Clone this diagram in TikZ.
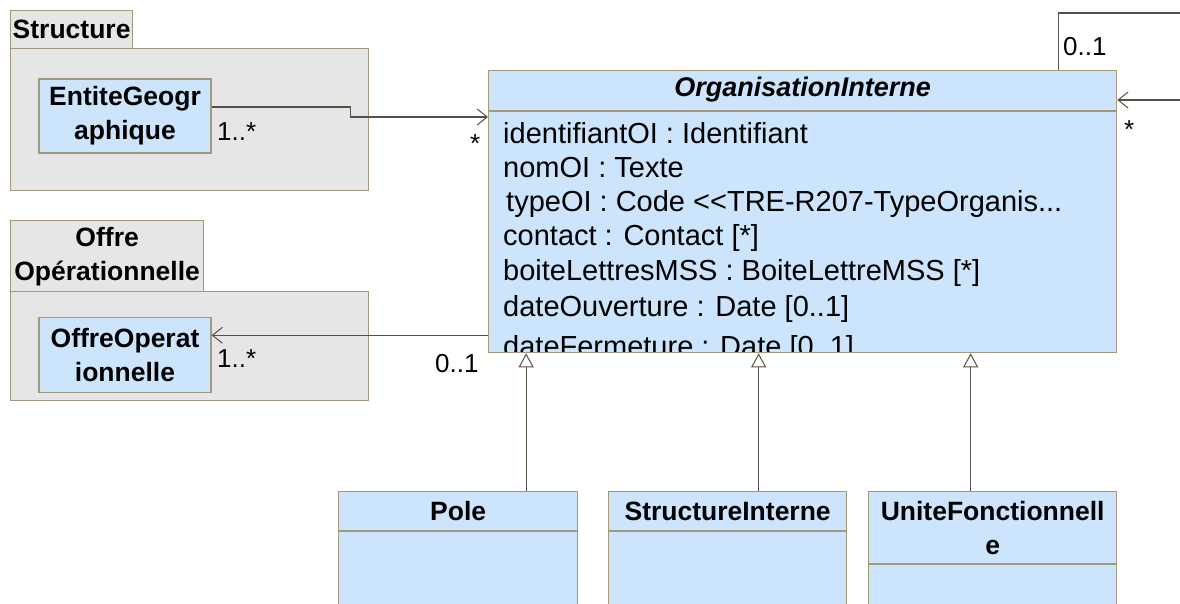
\documentclass[tikz,border=0pt]{standalone}
\usepackage{fontspec}
\setmainfont{Liberation Sans}
\usetikzlibrary{positioning,arrows.meta}
\definecolor{classfill}{RGB}{204,229,252}
\definecolor{pkgfill}{RGB}{230,230,230}
\definecolor{edgecol}{RGB}{163,152,122}
\definecolor{wirecol}{RGB}{88,80,68}

\tikzset{
  pkg/.style={draw=edgecol,fill=pkgfill,line width=1.3pt,inner sep=0pt},
  classbox/.style={draw=edgecol,fill=classfill,line width=1.3pt,inner sep=0pt},
  sepline/.style={draw=edgecol,line width=1.3pt},
  cname/.style={font=\fontsize{26.5}{34}\selectfont\bfseries,align=center,inner sep=0pt},
  attr/.style={font=\fontsize{29}{34}\selectfont,anchor=base west,inner sep=0pt},
  mult/.style={font=\fontsize{26}{30}\selectfont,anchor=base west,inner sep=0pt},
  assoc/.style={draw=wirecol,line width=1.3pt,-{Straight Barb[length=10pt,width=16pt,line width=1pt]}},
  gen/.style={draw=wirecol,line width=1.3pt,-{Triangle[length=14pt,width=15pt,fill=white,line width=1pt]}}
}

\begin{document}
\begin{tikzpicture}[x=1pt,y=-1pt]
\clip (0,0) rectangle (1180,603);
\fill[white] (0,0) rectangle (1180,603);

% packages
\node[pkg,anchor=north west,minimum width=358,minimum height=142] (strucpkg) at (10,48) {};
\node[pkg,cname,anchor=north west,minimum width=122,minimum height=38] (structab) at (10,10) {Structure};
\node[pkg,anchor=north west,minimum width=358,minimum height=109] (offrepkg) at (10,291) {};
\node[pkg,cname,anchor=north west,minimum width=193,minimum height=71] (offretab) at (10,220) {Offre\\Opérationnelle};

\node[classbox,cname,minimum width=172,minimum height=74] (entite) at (125,116) {EntiteGeogr\\aphique};
\node[classbox,cname,minimum width=172,minimum height=75] (offre) at (125,355) {OffreOperat\\ionnelle};

% main class
\node[classbox,anchor=north west,minimum width=628,minimum height=282] (oi) at (488,70) {};
\node[cname,font=\fontsize{27}{34}\selectfont\bfseries\itshape] (oiname) at ([yshift=-20pt]oi.north) {OrganisationInterne};
\draw[sepline] ([yshift=-41pt]oi.north west) -- ([yshift=-41pt]oi.north east);
\begin{scope}
\clip ([shift={(1pt,2pt)}]oi.south west) rectangle ([shift={(-1pt,-42pt)}]oi.north east);
\node[attr] at (503,143) {identifiantOI : Identifiant};
\node[attr] at (503,177) {nomOI : Texte};
\node[attr] at (506,211) {typeOI : Code <{}<TRE-R207-TypeOrganis...};
\node[attr] at (503,245) {contact : Contact [*]};
\node[attr] at (503,280) {boiteLettresMSS : BoiteLettreMSS [*]};
\node[attr] at (503,316) {dateOuverture : Date [0..1]};
\node[attr] at (503,356) {dateFermeture : Date [0..1]};
\end{scope}

% sub classes
\node[classbox,anchor=north west,minimum width=239,minimum height=130] (pole) at (338,491) {};
\node[cname] at ([yshift=-20pt]pole.north) {Pole};
\draw[sepline] ([yshift=-40pt]pole.north west) -- ([yshift=-40pt]pole.north east);
\node[classbox,anchor=north west,minimum width=238,minimum height=130] (strint) at (608,491) {};
\node[cname] at ([yshift=-20pt]strint.north) {StructureInterne};
\draw[sepline] ([yshift=-40pt]strint.north west) -- ([yshift=-40pt]strint.north east);
\node[classbox,anchor=north west,minimum width=248,minimum height=130] (unite) at (868,491) {};
\node[cname] at ([yshift=-37pt]unite.north) {UniteFonctionnell\\e};
\draw[sepline] ([yshift=-73pt]unite.north west) -- ([yshift=-73pt]unite.north east);

% generalisations
\draw[gen] ([xshift=68pt]pole.north) coordinate (g1) -- (g1 |- oi.south);
\draw[gen] ([xshift=31pt]strint.north) coordinate (g2) -- (g2 |- oi.south);
\draw[gen] ([xshift=-22pt]unite.north) coordinate (g3) -- (g3 |- oi.south);

% associations
\draw[assoc] ([yshift=9pt]entite.east) -- ++(139,0) |- ([yshift=-47pt]oi.north west);
\draw[assoc] ([yshift=18pt]oi.south west) coordinate (o1) -- (o1 -| offre.east);
\draw[assoc] ([xshift=-59pt]oi.north east) -- ++(0,-57) -| ++(150,87) |- ([yshift=-30pt]oi.north east);

\node[mult] at (217,140) {1..*};
\node[mult] at (470,152) {*};
\node[mult] at (217,367) {1..*};
\node[mult] at (435,372) {0..1};
\node[mult] at (1063,55) {0..1};
\node[mult] at (1124,138) {*};
\end{tikzpicture}
\end{document}
